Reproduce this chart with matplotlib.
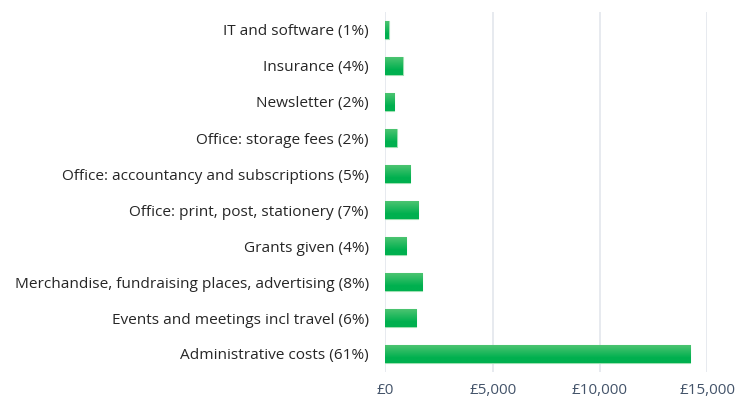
import numpy as np
import matplotlib.pyplot as plt
from matplotlib.colors import LinearSegmentedColormap

categories = [
    "Administrative costs (61%)",
    "Events and meetings incl travel (6%)",
    "Merchandise, fundraising places, advertising (8%)",
    "Grants given (4%)",
    "Office: print, post, stationery (7%)",
    "Office: accountancy and subscriptions (5%)",
    "Office: storage fees (2%)",
    "Newsletter (2%)",
    "Insurance (4%)",
    "IT and software (1%)",
]
amounts = [14210, 1445, 1725, 980, 1540, 1165, 530, 420, 810, 160]
xticks = [0, 5000, 10000, 15000]
xticklabels = ["£0", "£5,000", "£10,000", "£15,000"]

plt.rcParams['font.family'] = ['Open Sans', 'DejaVu Sans']

fig = plt.figure(figsize=(7.36, 4.0), dpi=100)
ax = fig.add_axes([0.5235, 0.07, 0.961 - 0.5235, 0.90])

y = np.arange(len(categories))
bars = ax.barh(y, amounts, height=0.48, color="#00B050", edgecolor="#9FE0B2", linewidth=0.8, zorder=3)

# light at the top, full green lower down
grad = np.clip(np.linspace(-0.4, 1.0, 60), 0, 1).reshape(-1, 1)
cmap = LinearSegmentedColormap.from_list("g", ["#00B04F", "#4CC471"])
for b in bars:
    x0, y0 = b.get_x(), b.get_y()
    w, h = b.get_width(), b.get_height()
    im = ax.imshow(grad, cmap=cmap, aspect="auto", extent=[x0, x0 + w, y0, y0 + h],
                   origin="lower", interpolation="bilinear", zorder=3.5)
    im.set_clip_path(b)

ax.set_xlim(0, 15000)
ax.set_ylim(-0.5, len(categories) - 0.5)
ax.set_xticks(xticks)
ax.set_xticklabels(xticklabels, color="#44546A", fontsize=11)
ax.set_yticks(y)
ax.set_yticklabels(categories, color="#262626", fontsize=11.1)
ax.tick_params(axis="both", length=0)
ax.tick_params(axis="y", pad=12)
ax.tick_params(axis="x", pad=8)
for s in ax.spines.values():
    s.set_visible(False)
ax.grid(axis="x", color="#E3E6EC", linewidth=1.2, zorder=0)

fig.savefig("out.png", dpi=100)
